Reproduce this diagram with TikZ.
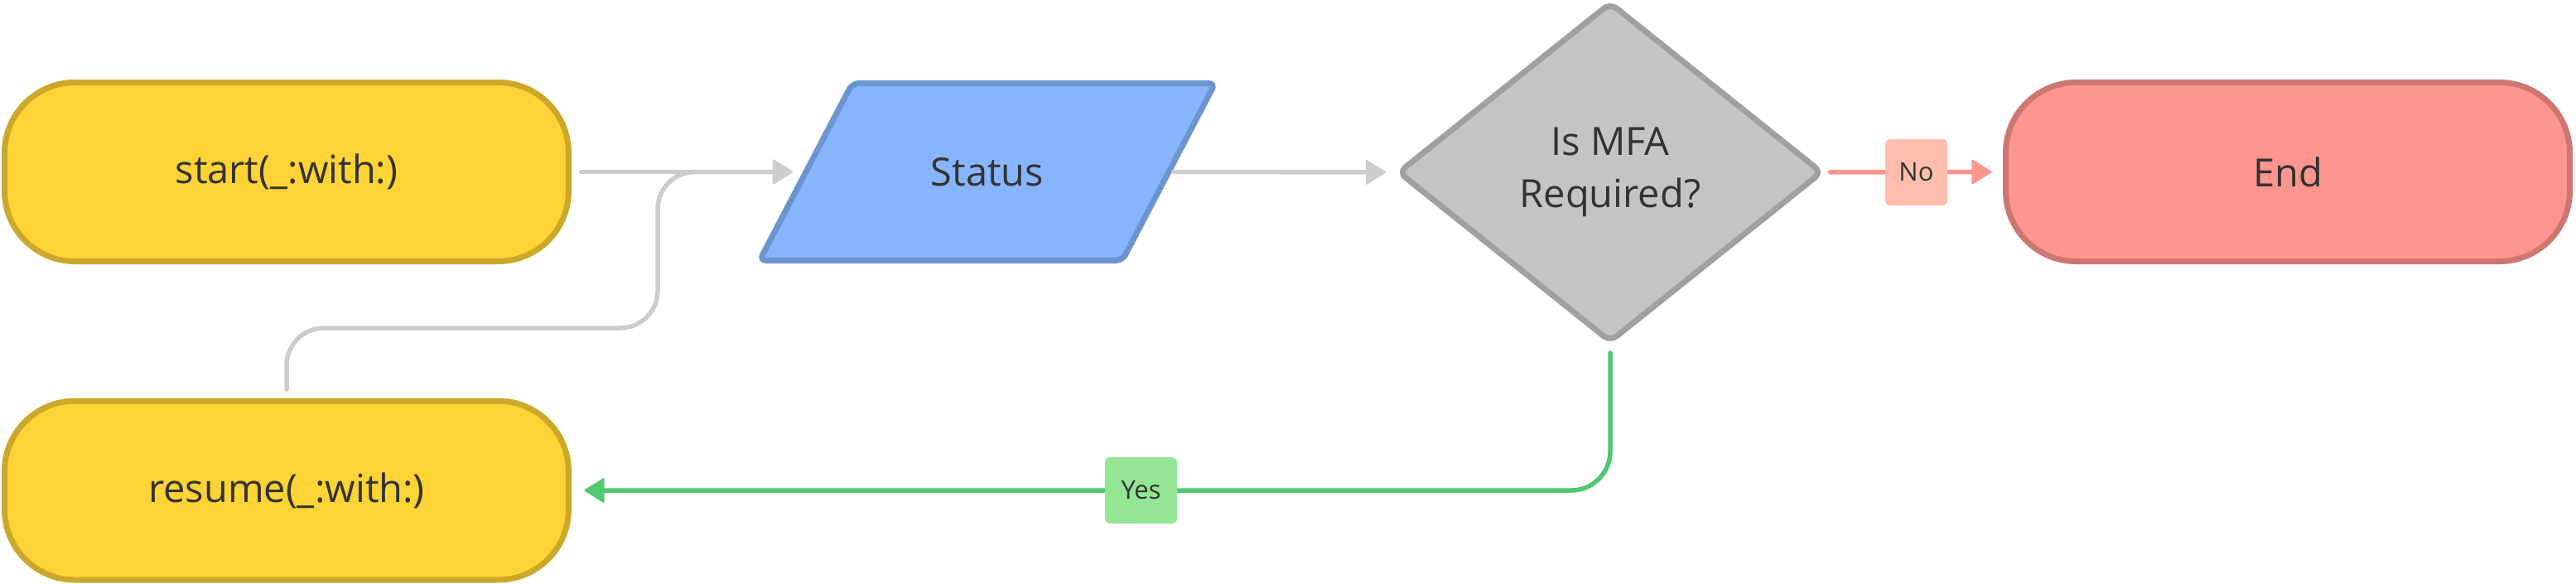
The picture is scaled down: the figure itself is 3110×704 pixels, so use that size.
\documentclass[tikz,border=0pt]{standalone}
\usepackage{fontspec}
\setmainfont{Open Sans}
\usetikzlibrary{arrows.meta,shapes.geometric}
\definecolor{yellowF}{HTML}{FDD335}
\definecolor{yellowD}{HTML}{CBA82A}
\definecolor{blueF}{HTML}{87B5FD}
\definecolor{blueD}{HTML}{6C95CE}
\definecolor{grayF}{HTML}{C4C4C4}
\definecolor{grayD}{HTML}{A0A0A0}
\definecolor{redF}{HTML}{FF958F}
\definecolor{redD}{HTML}{CC7772}
\definecolor{connG}{HTML}{CDCDCD}
\definecolor{noF}{HTML}{FFBEAD}
\definecolor{yesL}{HTML}{50C872}
\definecolor{yesF}{HTML}{94E594}
\definecolor{txt}{HTML}{333333}
\begin{document}
\begin{tikzpicture}[x=1pt,y=-1pt,
  term/.style={rectangle,rounded corners=85pt,line width=7pt,minimum width=681pt,minimum height=216pt,inner sep=0pt,text=txt,font=\fontsize{47}{63}\selectfont},
  maintext/.style={text=txt,font=\fontsize{47}{63}\selectfont,inner sep=0pt},
  conn/.style={line width=5.5pt,line cap=round,-{Triangle[length=25pt,width=31pt,round,line width=2pt]}},
  lab/.style={rectangle,rounded corners=6pt,inner sep=0pt,minimum height=80pt,text=txt,font=\fontsize{31}{36}\selectfont}
]
\useasboundingbox (0,0) rectangle (3110,704);
\fill[white] (0,0) rectangle (3110,704);

% terminals
\node[term,fill=yellowF,draw=yellowD] (start) at (346,207.5) {start(\_:with:)};
\node[term,fill=yellowF,draw=yellowD] (resume) at (346,592) {resume(\_:with:)};
\node[term,fill=redF,draw=redD] (end) at (2762,207.5) {End};

% status parallelogram
\draw[fill=blueF,draw=blueD,line width=7pt,rounded corners=8pt]
  (1029,100.5) -- (1467,100.5) -- (1355,314.5) -- (917,314.5) -- cycle;
\node[maintext] (status) at (1192,207.5) {Status};
\coordinate (statusL) at (973,207.5);
\coordinate (statusR) at (1411,207.5);

% decision
\node[diamond,fill=grayF,draw=grayD,line width=7pt,rounded corners=10pt,
  minimum width=513pt,minimum height=411pt,inner sep=0pt,align=center,
  text=txt,font=\fontsize{47}{63}\selectfont] (mfa) at (1944,208) {Is MFA\\Required?};

% connectors
\draw[conn,draw=connG,rounded corners=45pt,shorten <=10.5pt,shorten >=16pt]
  (resume.north) -- (346,396) -- (794,396) -- (794,207.5) -- (statusL);
\draw[conn,draw=connG,shorten <=11.5pt,shorten >=16pt] (start.east) -- (statusL);
\draw[conn,draw=connG,shorten <=6pt,shorten >=11pt] (statusR) -- (mfa.west);
\draw[conn,draw=redF,shorten <=5.5pt,shorten >=13.5pt] (mfa.east) -- (end.west);
\draw[conn,draw=yesL,rounded corners=47pt,shorten <=9pt,shorten >=15.5pt]
  (mfa.south) -- (1944,592) -- (resume.east);

% labels
\node[lab,fill=noF,minimum width=75pt] (no) at (2313.5,208) {No};
\node[lab,fill=yesF,minimum width=87pt] (yes) at (1377.5,592) {Yes};
\end{tikzpicture}
\end{document}
